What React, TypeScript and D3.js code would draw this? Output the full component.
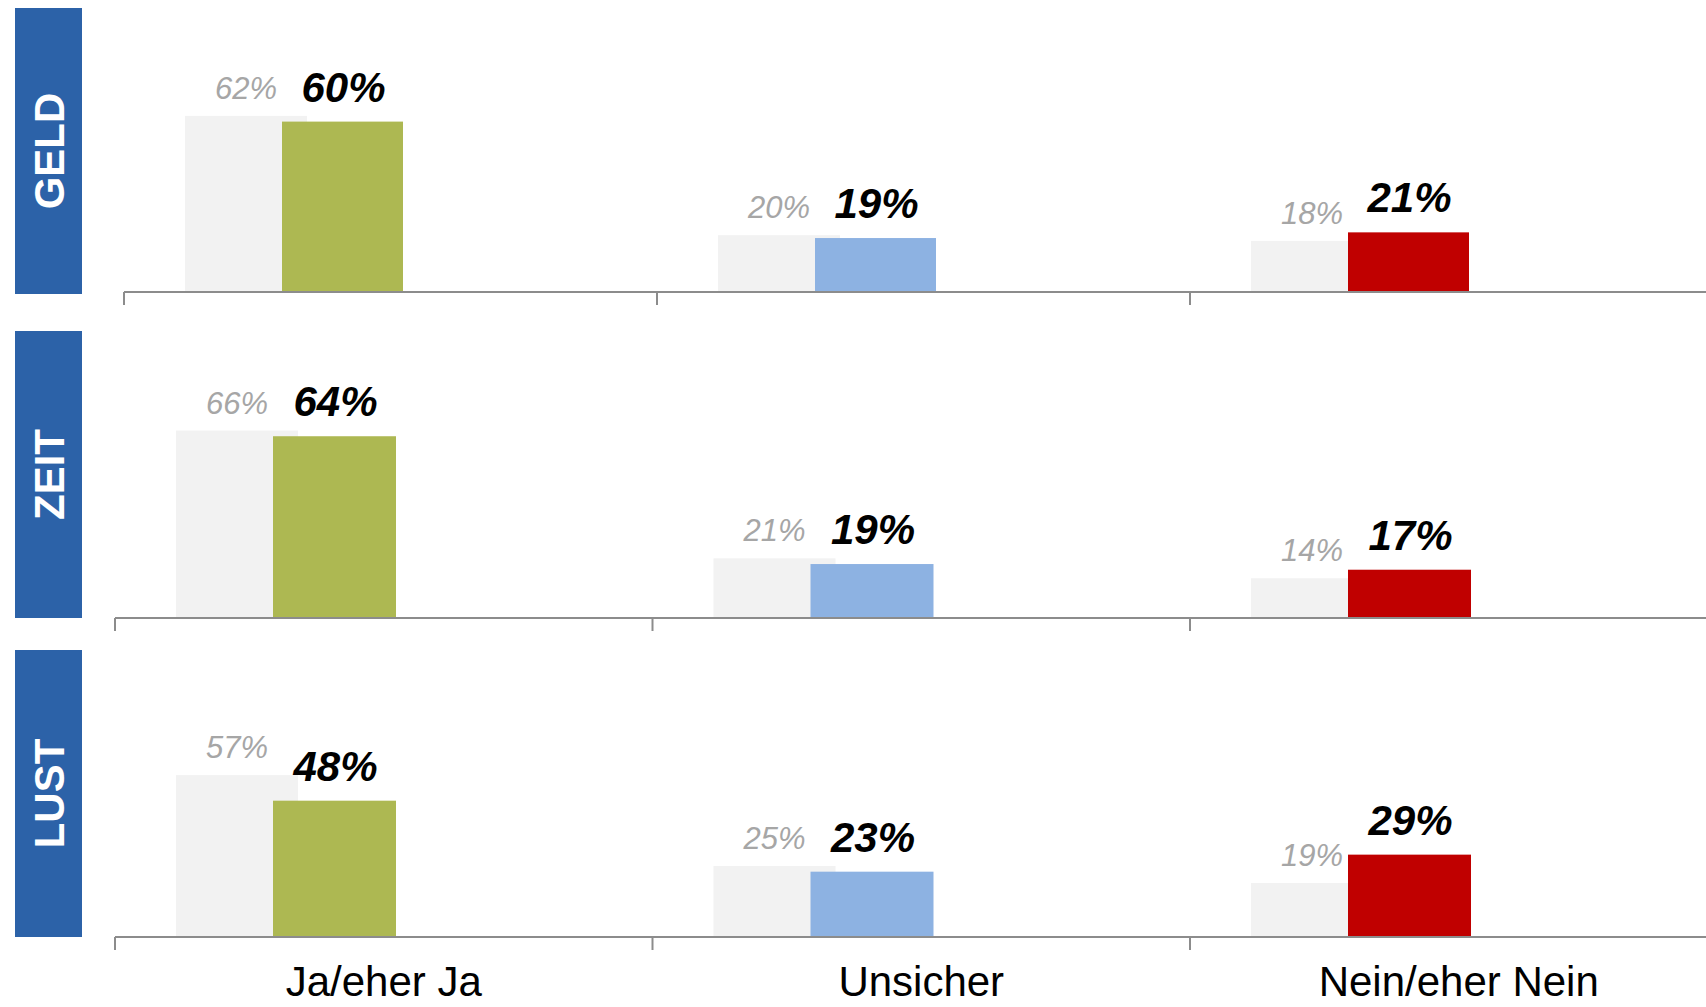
import * as d3 from "d3";
import React, { useEffect, useRef } from "react";

// categories and panels
const categories = ["Ja/eher Ja", "Unsicher", "Nein/eher Nein"];
const panelNames = ["GELD", "ZEIT", "LUST"];

// previous values (gray, behind) and current values (colored)
const prevGeld = [62, 20, 18];
const prevZeit = [66, 21, 14];
const prevLust = [57, 25, 19];
const curGeld = [60, 19, 21];
const curZeit = [64, 19, 17];
const curLust = [48, 23, 29];

const barColors = ["#adb852", "#8db2e2", "#c00000"];

const App = () => {
  const svgRef = useRef<SVGSVGElement>(null);

  useEffect(() => {
    const w = 1706;
    const h = 1007;
    const font = "'Liberation Sans', Arial, sans-serif";

    const svg = d3.select(svgRef.current).attr("width", w).attr("height", h);
    svg.selectAll("*").remove();

    // layout of each panel: box top/bottom, axis y, x start, band width, bar width
    const panels = [
      { name: panelNames[0], prev: prevGeld, cur: curGeld, boxTop: 8, boxBottom: 294, axisY: 292, x0: 124, bw: 533, barW: 121 },
      { name: panelNames[1], prev: prevZeit, cur: curZeit, boxTop: 331, boxBottom: 618, axisY: 618, x0: 115, bw: 537.5, barW: 123 },
      { name: panelNames[2], prev: prevLust, cur: curLust, boxTop: 650, boxBottom: 937, axisY: 937, x0: 115, bw: 537.5, barW: 123 },
    ];

    let lastX: d3.ScaleBand<string> | null = null;

    panels.forEach((p) => {
      const g = svg.append("g");

      const x = d3.scaleBand<string>()
        .domain(categories)
        .range([p.x0, p.x0 + p.bw * categories.length])
        .padding(0);
      const y = d3.scaleLinear().domain([0, 100]).range([p.axisY, p.axisY - 284]);
      lastX = x;

      // blue label box
      g.append("rect")
        .attr("x", 15)
        .attr("y", p.boxTop)
        .attr("width", 67)
        .attr("height", p.boxBottom - p.boxTop)
        .attr("fill", "#2c62a8");
      const cy = (p.boxTop + p.boxBottom) / 2;
      g.append("text")
        .attr("transform", `translate(49,${cy}) rotate(-90)`)
        .attr("text-anchor", "middle")
        .attr("dy", "0.36em")
        .attr("font-family", font)
        .attr("font-weight", "bold")
        .attr("font-size", 42)
        .attr("fill", "white")
        .text(p.name);

      const data = categories.map((c, i) => ({ c, i, prev: p.prev[i], cur: p.cur[i] }));

      // gray bars (previous)
      g.selectAll(".prev")
        .data(data)
        .enter()
        .append("rect")
        .attr("x", d => x(d.c)! + 61)
        .attr("y", d => y(d.prev))
        .attr("width", 122)
        .attr("height", d => y(0) - y(d.prev))
        .attr("fill", "#f2f2f2");

      // colored bars (current)
      g.selectAll(".cur")
        .data(data)
        .enter()
        .append("rect")
        .attr("x", d => x(d.c)! + 158)
        .attr("y", d => y(d.cur))
        .attr("width", p.barW)
        .attr("height", d => y(0) - y(d.cur))
        .attr("fill", d => barColors[d.i]);

      // labels
      g.selectAll(".prevLabel")
        .data(data)
        .enter()
        .append("text")
        .attr("x", d => x(d.c)! + 61 + 61)
        .attr("y", d => y(d.prev) - 17)
        .attr("text-anchor", "middle")
        .attr("font-family", font)
        .attr("font-style", "italic")
        .attr("font-size", 31)
        .attr("fill", "#a6a6a6")
        .text(d => `${d.prev}%`);

      g.selectAll(".curLabel")
        .data(data)
        .enter()
        .append("text")
        .attr("x", d => x(d.c)! + 158 + p.barW / 2 + 1)
        .attr("y", d => y(d.cur) - 20)
        .attr("text-anchor", "middle")
        .attr("font-family", font)
        .attr("font-style", "italic")
        .attr("font-weight", "bold")
        .attr("font-size", 42)
        .attr("fill", "black")
        .text(d => `${d.cur}%`);

      // axis line and ticks between categories
      g.append("line")
        .attr("x1", p.x0)
        .attr("x2", w)
        .attr("y1", p.axisY)
        .attr("y2", p.axisY)
        .attr("stroke", "#8c8c8c")
        .attr("stroke-width", 2);
      g.selectAll(".tick")
        .data(categories)
        .enter()
        .append("line")
        .attr("x1", d => x(d)!)
        .attr("x2", d => x(d)!)
        .attr("y1", p.axisY)
        .attr("y2", p.axisY + 13)
        .attr("stroke", "#8c8c8c")
        .attr("stroke-width", 2);
    });

    // category labels under the last panel
    const x = lastX!;
    svg.selectAll(".catLabel")
      .data(categories)
      .enter()
      .append("text")
      .attr("x", d => x(d)! + x.bandwidth() / 2)
      .attr("y", 996)
      .attr("text-anchor", "middle")
      .attr("font-family", font)
      .attr("font-size", 42)
      .attr("fill", "black")
      .text(d => d);
  }, []);

  return (
    <div style={{ position: "absolute", left: 0, top: 0, width: 1706, height: 1007, background: "white" }}>
      <svg ref={svgRef} style={{ display: "block" }} />
    </div>
  );
};

export default App;
